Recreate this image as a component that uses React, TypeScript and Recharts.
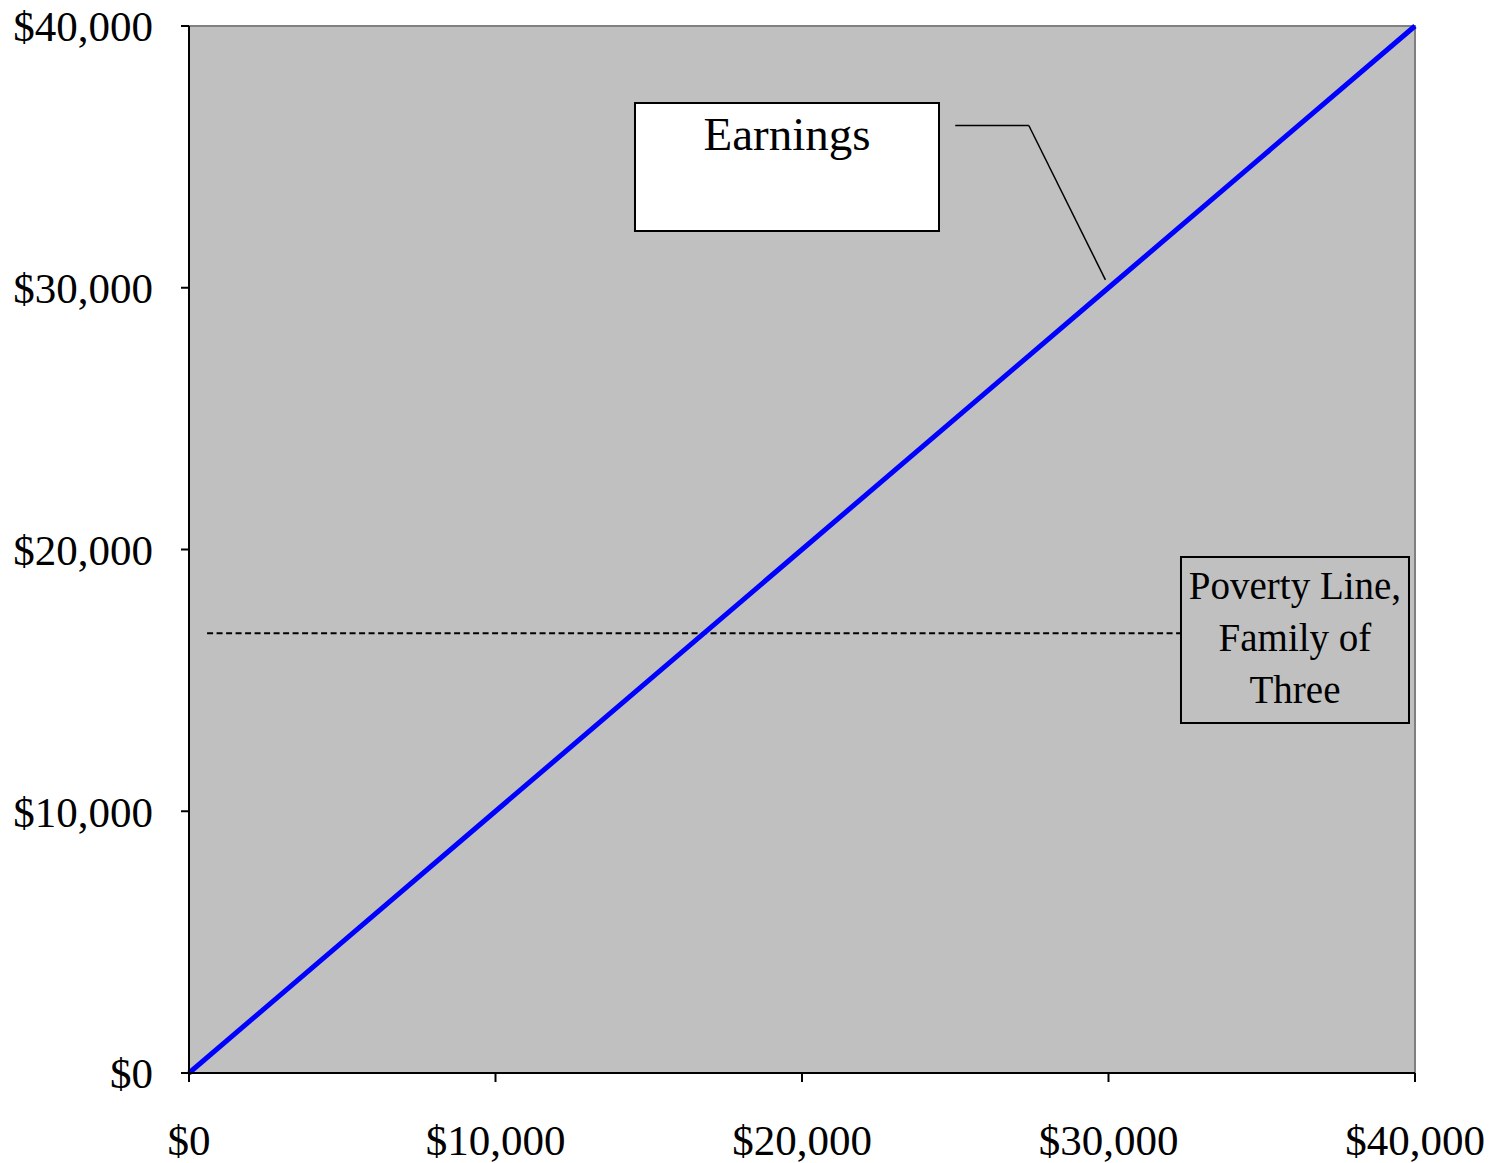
import { LineChart, Line, XAxis, YAxis, ReferenceArea, ReferenceLine } from 'recharts';

// Earnings rise dollar for dollar with income
const incomeLevels = [0, 5000, 10000, 15000, 20000, 25000, 30000, 35000, 40000];
const earningsValues = [0, 5000, 10000, 15000, 20000, 25000, 30000, 35000, 40000];
const axisTicks = [0, 10000, 20000, 30000, 40000];
const povertyLine = 16800;
const povertyLabel = ['Poverty Line,', 'Family of', 'Three'];
const earningsLabel = 'Earnings';

const chartData = incomeLevels.map((income, i) => ({ income, earnings: earningsValues[i] }));

const SERIF = '"Liberation Serif", "Times New Roman", serif';
const money = (v: number) => `$${v.toLocaleString('en-US')}`;

const EarningsText = ({ viewBox }: any) => {
  const { x, y, width } = viewBox;
  return (
    <text x={x + width / 2} y={y + 47} textAnchor="middle" fontFamily={SERIF} fontSize={47} fill="#000">
      {earningsLabel}
    </text>
  );
};

const PovertyText = ({ viewBox }: any) => {
  const { x, y, width } = viewBox;
  return (
    <text textAnchor="middle" fontFamily={SERIF} fontSize={39} fill="#000">
      {povertyLabel.map((line, i) => (
        <tspan key={line} x={x + width / 2} y={y + 42 + i * 52}>{line}</tspan>
      ))}
    </text>
  );
};

const App = () => {
  const tickStyle = { fontFamily: SERIF, fontSize: 43, fill: '#000' };
  return (
    <div style={{ position: 'absolute', left: 0, top: 0, width: 1499, height: 1163, background: '#fff' }}>
      <LineChart width={1499} height={1163} data={chartData} margin={{ top: 26, right: 84, bottom: 30, left: 9 }}>
        {/* plot background with grey frame */}
        <ReferenceArea x1={0} x2={40000} y1={0} y2={40000} fill="#C0C0C0" fillOpacity={1} stroke="#808080" strokeWidth={2} />
        <XAxis
          dataKey="income"
          type="number"
          domain={[0, 40000]}
          ticks={axisTicks}
          tickFormatter={money}
          tickSize={9}
          tickMargin={42}
          height={60}
          stroke="#000"
          axisLine={{ stroke: '#000', strokeWidth: 2 }}
          tickLine={{ stroke: '#000', strokeWidth: 2 }}
          tick={tickStyle}
          interval={0}
        />
        <YAxis
          type="number"
          domain={[0, 40000]}
          ticks={axisTicks}
          tickFormatter={money}
          tickSize={8}
          tickMargin={28}
          width={180}
          axisLine={{ stroke: '#000', strokeWidth: 2 }}
          tickLine={{ stroke: '#000', strokeWidth: 2 }}
          tick={tickStyle}
          interval={0}
        />
        {/* poverty threshold, dashed */}
        <ReferenceLine
          segment={[{ x: 590, y: povertyLine }, { x: 32365, y: povertyLine }]}
          stroke="#000"
          strokeWidth={2}
          strokeDasharray="6 3.5"
        />
        <ReferenceArea
          x1={32365}
          x2={39804}
          y1={13372}
          y2={19713}
          fill="none"
          stroke="#000"
          strokeWidth={2}
          label={(props: any) => <PovertyText {...props} />}
        />
        {/* callout pointing at the earnings line */}
        <ReferenceLine segment={[{ x: 25000, y: 36200 }, { x: 27400, y: 36200 }]} stroke="#000" strokeWidth={1.5} />
        <ReferenceLine segment={[{ x: 27400, y: 36200 }, { x: 29900, y: 30300 }]} stroke="#000" strokeWidth={1.5} />
        <ReferenceArea
          x1={14551}
          x2={24470}
          y1={32168}
          y2={37059}
          fill="#fff"
          fillOpacity={1}
          stroke="#000"
          strokeWidth={2}
          label={(props: any) => <EarningsText {...props} />}
        />
        <Line
          type="linear"
          dataKey="earnings"
          stroke="#0000FF"
          strokeWidth={5}
          dot={false}
          isAnimationActive={false}
        />
      </LineChart>
    </div>
  );
};

export default App;
